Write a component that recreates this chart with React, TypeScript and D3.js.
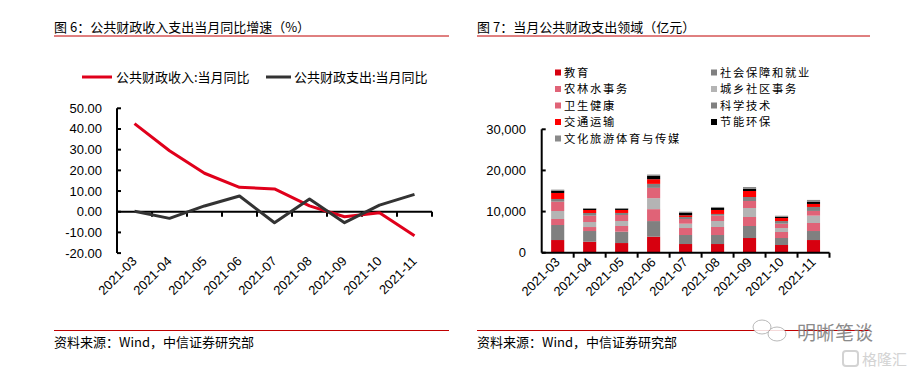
import React from "react";
import * as d3 from "d3";

const months = ["2021-03","2021-04","2021-05","2021-06","2021-07","2021-08","2021-09","2021-10","2021-11"];
const revenueYoY = [42.6, 29.5, 18.6, 11.8, 11.0, 2.8, -2.4, -0.5, -11.6];
const expenditureYoY = [0.2, -3.2, 2.8, 7.6, -5.3, 6.1, -5.3, 3.2, 8.4];
const leftTicks = [50, 40, 30, 20, 10, 0, -10, -20];

const seriesNames = ["教育","社会保障和就业","农林水事务","城乡社区事务","卫生健康","科学技术","交通运输","节能环保","文化旅游体育与传媒"];
const seriesColors = ["#d7000f","#808080","#e06377","#b4b4b4","#e06377","#808080","#ff0000","#000000","#8a8a8a"];
const education = [3080, 2670, 2350, 3890, 2110, 2110, 3570, 1870, 3080];
const socialSecurity = [3650, 2600, 2760, 3800, 2190, 2190, 2920, 1700, 2190];
const agriculture = [1460, 970, 1380, 2900, 1700, 1950, 2190, 1460, 1950];
const urbanRural = [1950, 1220, 1220, 2670, 1050, 1460, 2190, 970, 1790];
const health = [2270, 1540, 1460, 2500, 1140, 1300, 1700, 1050, 1140];
const science = [650, 650, 490, 970, 490, 410, 970, 650, 970];
const transport = [1460, 730, 730, 1130, 410, 970, 1460, 730, 730];
const energy = [570, 320, 320, 810, 570, 490, 570, 320, 490];
const culture = [240, 160, 160, 330, 320, 240, 400, 240, 490];
const rightTicks = [0, 10000, 20000, 30000];
const legendOrder = [[0, 2, 4, 6, 8], [1, 3, 5, 7]];

const CJK = "'Noto Sans CJK SC', 'Noto Sans', sans-serif";
const LAT = "'Liberation Sans', Arial, sans-serif";

export default function App() {
  // Left chart
  const lx = d3.scaleBand<string>().domain(months).range([117, 432]);
  const ly = d3.scaleLinear().domain([-20, 50]).range([253.1, 108.3]);
  const line = d3.line<number>().x((_, i) => (lx(months[i]) as number) + lx.bandwidth() / 2).y((v) => ly(v));

  // Right chart
  const rx = d3.scaleBand<string>().domain(months).range([541.7, 829.5]).paddingInner(0.59).paddingOuter(0.295);
  const rxOuter = d3.scaleBand<string>().domain(months).range([541.7, 829.5]);
  const ry = d3.scaleLinear().domain([0, 30000]).range([252.7, 129.3]);
  const allSeries = [education, socialSecurity, agriculture, urbanRural, health, science, transport, energy, culture];
  const table = months.map((m, i) => {
    const o: any = { month: m };
    seriesNames.forEach((n, k) => (o[n] = allSeries[k][i]));
    return o;
  });
  const stacked = d3.stack<any>().keys(seriesNames)(table);

  return (
    <svg width={914} height={376} style={{ position: "absolute", left: 0, top: 0, background: "#fff" }}>
      <rect x={0} y={0} width={914} height={376} fill="#fff" />
      {/* Titles */}
      <text x={54} y={32} fontFamily={CJK} fontSize={13} fill="#000">图 6：公共财政收入支出当月同比增速（%）</text>
      <line x1={54} x2={449} y1={36} y2={36} stroke="#c00000" strokeWidth={1} />
      <text x={477} y={32} fontFamily={CJK} fontSize={13} fill="#000">图 7：当月公共财政支出领域（亿元）</text>
      <line x1={477} x2={870} y1={36} y2={36} stroke="#c00000" strokeWidth={1} />

      {/* Left legend */}
      <line x1={82} x2={112} y1={77} y2={77} stroke="#e0001b" strokeWidth={3} />
      <text x={116} y={82} fontFamily={CJK} fontSize={13}>公共财政收入:当月同比</text>
      <line x1={266} x2={291} y1={77} y2={77} stroke="#333" strokeWidth={3} />
      <text x={294} y={82} fontFamily={CJK} fontSize={13}>公共财政支出:当月同比</text>

      {/* Left y axis */}
      <line x1={117} x2={117} y1={ly(50)} y2={ly(-20)} stroke="#000" strokeWidth={2} />
      {leftTicks.map((t) => (
        <g key={t}>
          <line x1={117} x2={121} y1={ly(t)} y2={ly(t)} stroke="#000" strokeWidth={2} />
          <text x={102} y={ly(t) + 4.5} textAnchor="end" fontFamily={LAT} fontSize={13}>{t.toFixed(2)}</text>
        </g>
      ))}
      {/* Left x axis at zero */}
      <line x1={117} x2={432} y1={ly(0)} y2={ly(0)} stroke="#000" strokeWidth={2} />
      {months.map((m) => (
        <line key={m} x1={(lx(m) as number) + lx.bandwidth()} x2={(lx(m) as number) + lx.bandwidth()} y1={ly(0)} y2={ly(0) + 5} stroke="#000" strokeWidth={2} />
      ))}
      {months.map((m) => {
        const cx = (lx(m) as number) + lx.bandwidth() / 2 + 3;
        const cy = 262;
        return (
          <text key={m} x={cx} y={cy} textAnchor="end" fontFamily={LAT} fontSize={13} transform={`rotate(-45 ${cx} ${cy})`}>{m}</text>
        );
      })}
      <path d={line(revenueYoY) as string} fill="none" stroke="#e0001b" strokeWidth={3} strokeLinejoin="round" />
      <path d={line(expenditureYoY) as string} fill="none" stroke="#333" strokeWidth={3} strokeLinejoin="round" />

      {/* Right legend */}
      {legendOrder.map((col, ci) =>
        col.map((si, ri) => {
          const x = ci === 0 ? 555 : 711;
          const y = 72.5 + ri * 16.5;
          return (
            <g key={si}>
              <rect x={x} y={y - 3} width={6} height={6} fill={seriesColors[si]} />
              <text x={x + 9} y={y + 4.3} fontFamily={CJK} fontSize={11.3} letterSpacing={1.7}>{seriesNames[si]}</text>
            </g>
          );
        })
      )}

      {/* Right bars */}
      {stacked.map((s, k) => (
        <g key={k} fill={seriesColors[k]}>
          {s.map((d, i) => (
            <rect key={i} x={rx(months[i])} width={rx.bandwidth()} y={ry(d[1])} height={ry(d[0]) - ry(d[1])} />
          ))}
        </g>
      ))}

      {/* Right axes */}
      <line x1={541.7} x2={541.7} y1={ry(30000)} y2={ry(0)} stroke="#000" strokeWidth={2} />
      {rightTicks.map((t) => (
        <g key={t}>
          <line x1={541.7} x2={545.7} y1={ry(t)} y2={ry(t)} stroke="#000" strokeWidth={2} />
          <text x={526} y={ry(t) + 4.5} textAnchor="end" fontFamily={LAT} fontSize={13}>{d3.format(",")(t)}</text>
        </g>
      ))}
      <line x1={541.7} x2={829.5} y1={ry(0)} y2={ry(0)} stroke="#000" strokeWidth={2} />
      {months.map((m) => (
        <line key={m} x1={(rxOuter(m) as number) + rxOuter.bandwidth()} x2={(rxOuter(m) as number) + rxOuter.bandwidth()} y1={ry(0)} y2={ry(0) + 5} stroke="#000" strokeWidth={2} />
      ))}
      {months.map((m) => {
        const cx = (rxOuter(m) as number) + rxOuter.bandwidth() / 2 + 3;
        const cy = 263;
        return (
          <text key={m} x={cx} y={cy} textAnchor="end" fontFamily={LAT} fontSize={13} transform={`rotate(-45 ${cx} ${cy})`}>{m}</text>
        );
      })}

      {/* Footers */}
      <line x1={54} x2={449} y1={330.5} y2={330.5} stroke="#c00000" strokeWidth={1} />
      <text x={54} y={347} fontFamily={CJK} fontSize={13}>资料来源：Wind，中信证券研究部</text>
      <line x1={477} x2={870} y1={330.5} y2={330.5} stroke="#c00000" strokeWidth={1} />
      <text x={477} y={347} fontFamily={CJK} fontSize={13}>资料来源：Wind，中信证券研究部</text>

      {/* Watermark */}
      <g opacity={0.85}>
        <ellipse cx={762} cy={327} rx={9} ry={7} fill="#fff" stroke="#999" strokeWidth={0.8} />
        <ellipse cx={777} cy={334} rx={9} ry={7} fill="#fff" stroke="#999" strokeWidth={0.8} />
        <text x={797} y={340} fontFamily={CJK} fontSize={19} fill="#777">明晰笔谈</text>
        <rect x={843} y={351} width={15} height={15} rx={3} fill="none" stroke="#ccc" strokeWidth={2} />
        <text x={862} y={365} fontFamily={CJK} fontSize={15} fill="#ccc">格隆汇</text>
      </g>
    </svg>
  );
}
